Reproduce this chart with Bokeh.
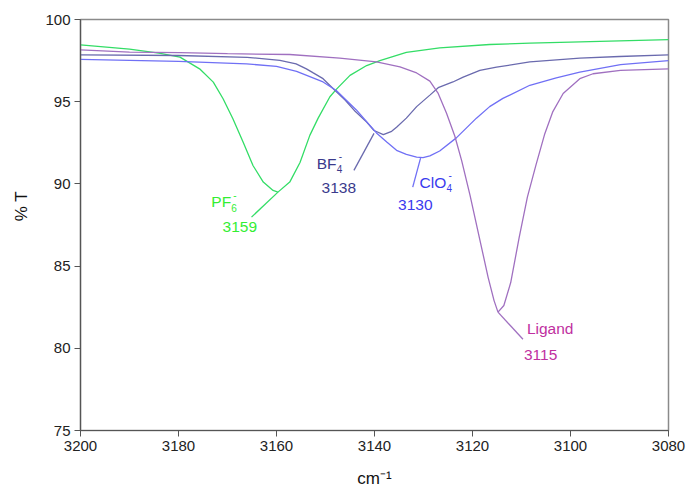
from bokeh.plotting import figure
from bokeh.models import Range1d, FixedTicker, Label
from bokeh.embed import file_html
from bokeh.resources import INLINE

# ---- data ----
pf6_w = [3200, 3190, 3184, 3179.7, 3175.7, 3172.9, 3170.9, 3168.9, 3166.8, 3164.8, 3162.7, 3160.7, 3159.7,
         3157.3, 3155.2, 3153.2, 3151.5, 3149.1, 3147.8, 3145.0, 3141.6, 3138.9, 3133.5, 3126.7, 3116.5,
         3108.3, 3100, 3090, 3080]
pf6_t = [98.46, 98.2, 97.95, 97.71, 97.0, 96.19, 95.18, 93.96, 92.54, 91.12, 90.11, 89.6, 89.5,
         90.11, 91.3, 92.95, 94.0, 95.3, 95.75, 96.6, 97.2, 97.5, 98.0, 98.28, 98.48,
         98.56, 98.62, 98.7, 98.77]

lig_w = [3200, 3190, 3179.7, 3170, 3157.3, 3147.1, 3139.6, 3134.8, 3131.4, 3128.7, 3127.0, 3125.3, 3123.6,
         3122.2, 3120.5, 3118.5, 3116.8, 3115.6, 3114.8, 3113.6, 3112.2, 3110.5, 3108.8, 3107.0, 3105.3,
         3103.6, 3101.5, 3098.1, 3095.4, 3089.8, 3080]
lig_t = [98.15, 98.02, 97.98, 97.92, 97.87, 97.65, 97.42, 97.12, 96.75, 96.25, 95.5, 94.3, 92.9,
         91.4, 89.3, 86.6, 84.3, 82.9, 82.2, 82.6, 84.0, 86.7, 89.2, 91.2, 93.0,
         94.4, 95.5, 96.4, 96.7, 96.9, 97.0]

bf4_w = [3200, 3180, 3166, 3159.3, 3156, 3153.9, 3152.5, 3150.5, 3148.1, 3146, 3143.9, 3141.6, 3140.1,
         3138.2, 3136.5, 3135.5, 3133.5, 3131.4, 3128.7, 3127.0, 3124, 3121.9, 3118.5, 3115.1, 3108.3,
         3098.1, 3090, 3080]
bf4_t = [97.85, 97.81, 97.7, 97.51, 97.3, 97.0, 96.75, 96.4, 95.7, 95.1, 94.4, 93.76, 93.25,
         93.0, 93.2, 93.45, 94.0, 94.7, 95.4, 95.85, 96.2, 96.5, 96.9, 97.1, 97.42,
         97.65, 97.75, 97.85]

clo4_w = [3200, 3180, 3166.1, 3160, 3155.9, 3150.5, 3147.8, 3143.7, 3139.6, 3137.5, 3135.5, 3133.5, 3131.4,
          3130.1, 3128.7, 3126.7, 3123.3, 3119.2, 3116.5, 3113.8, 3108.3, 3102.9, 3098.1, 3089.8, 3080]
clo4_t = [97.57, 97.45, 97.3, 97.15, 96.85, 96.2, 95.68, 94.5, 93.1, 92.55, 92.04, 91.8, 91.63,
          91.6, 91.7, 92.0, 92.8, 94.0, 94.7, 95.2, 96.0, 96.45, 96.8, 97.25, 97.5]

x_ticks = [3200, 3180, 3160, 3140, 3120, 3100, 3080]
y_ticks = [75, 80, 85, 90, 95, 100]

# peak annotations: name, subscript, superscript, value label, peak position,
# leader end, name anchor, value anchor
peaks = [
    dict(name="PF", sub="6", sup="-", val="3159", px=3159.7, py=89.5, ex=3165.1, ey=87.98,
         nx=3173.3, ny=88.9, vx=3171.0, vy=87.37, line="#33dd66", text="#33ee33", nw=20),
    dict(name="BF", sub="4", sup="-", val="3138", px=3140.1, py=93.07, ex=3144.2, ey=90.82,
         nx=3151.8, ny=91.25, vx=3150.8, vy=89.73, line="#6a6aae", text="#3a3a8c", nw=20),
    dict(name="ClO", sub="4", sup="-", val="3130", px=3130.6, py=91.57, ex=3132.2, ey=89.8,
         nx=3130.8, ny=90.09, vx=3135.2, vy=88.69, line="#7070f5", text="#3a3aee", nw=27),
    dict(name="Ligand", sub="", sup="", val="3115", px=3114.8, py=82.2, ex=3109.7, ey=80.55,
         nx=3108.9, ny=81.22, vx=3109.5, vy=79.57, line="#a070c0", text="#c0309f", nw=0),
]

FONT = "Liberation Sans"

p = figure(width=687, height=490, output_backend="svg", toolbar_location=None,
           x_range=Range1d(3200, 3080), y_range=Range1d(75, 100),
           min_border_left=80, min_border_right=19, min_border_top=19, min_border_bottom=59)
p.background_fill_color = "white"
p.border_fill_color = "white"
p.outline_line_color = "#8a8a8a"
p.outline_line_width = 1.5
p.grid.visible = False

p.line(pf6_w, pf6_t, line_color="#33dd66", line_width=1.3)
p.line(bf4_w, bf4_t, line_color="#6a6aae", line_width=1.3)
p.line(clo4_w, clo4_t, line_color="#7070f5", line_width=1.3)
p.line(lig_w, lig_t, line_color="#a070c0", line_width=1.3)

for pk in peaks:
    p.segment(x0=[pk["px"]], y0=[pk["py"]], x1=[pk["ex"]], y1=[pk["ey"]],
              line_color=pk["line"], line_width=1.3)
    p.add_layout(Label(x=pk["nx"], y=pk["ny"], text=pk["name"], text_font=FONT,
                       text_font_size="15.5px", text_color=pk["text"],
                       text_baseline="middle", text_align="left"))
    if pk["sub"]:
        p.add_layout(Label(x=pk["nx"], y=pk["ny"], text=pk["sub"], text_font=FONT,
                           text_font_size="10px", text_color=pk["text"], x_offset=pk["nw"],
                           y_offset=-6, text_baseline="middle", text_align="left"))
        p.add_layout(Label(x=pk["nx"], y=pk["ny"], text=pk["sup"], text_font=FONT,
                           text_font_size="10px", text_color=pk["text"], x_offset=pk["nw"] + 2,
                           y_offset=7, text_baseline="middle", text_align="left"))
    p.add_layout(Label(x=pk["vx"], y=pk["vy"], text=pk["val"], text_font=FONT,
                       text_font_size="15.5px", text_color=pk["text"],
                       text_baseline="middle", text_align="left"))

for ax in (p.xaxis[0], p.yaxis[0]):
    ax.axis_line_color = "#555555"
    ax.axis_line_width = 1.2
    ax.major_tick_line_color = "#555555"
    ax.major_tick_in = 0
    ax.major_tick_out = 6
    ax.minor_tick_line_color = None
    ax.major_label_text_font = FONT
    ax.major_label_text_font_size = "15px"
    ax.major_label_text_color = "#222222"
    ax.axis_label_text_font = FONT
    ax.axis_label_text_font_style = "normal"
    ax.axis_label_text_font_size = "17px"
    ax.axis_label_text_color = "#111111"

p.xaxis[0].ticker = FixedTicker(ticks=x_ticks)
p.yaxis[0].ticker = FixedTicker(ticks=y_ticks)
p.xaxis[0].axis_label = "cm⁻¹"
p.yaxis[0].axis_label = "\u00a0" * 8 + "% T"
p.xaxis[0].major_label_standoff = 4
p.yaxis[0].major_label_standoff = 4
p.xaxis[0].axis_label_standoff = 15
p.yaxis[0].axis_label_standoff = 11

open("out.html", "w").write(file_html(p, INLINE))
